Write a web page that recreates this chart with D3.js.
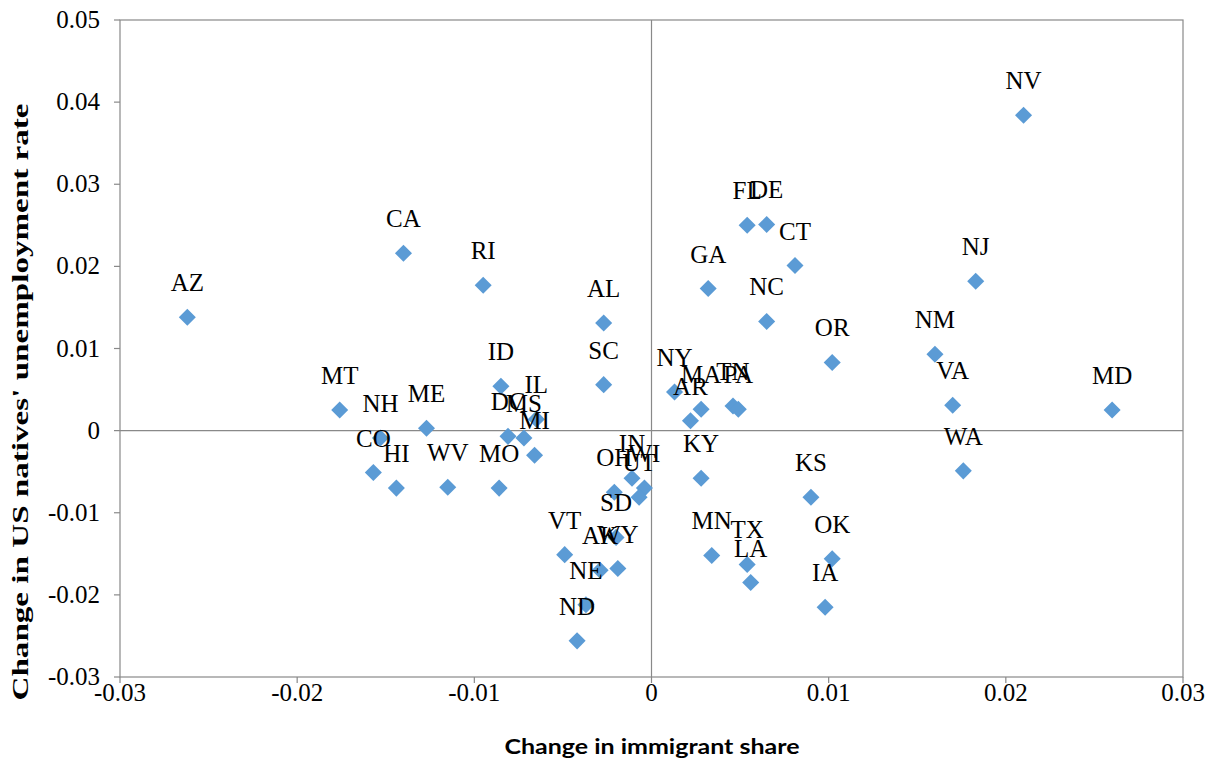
<!DOCTYPE html>
<html>
<head>
<meta charset="utf-8">
<title>Immigrant share vs natives' unemployment</title>
<style>
  body { margin: 0; background: #fff; }
</style>
</head>
<body>
<svg width="1212" height="763"></svg>
<script src="https://d3js.org/d3.v7.min.js"></script>
<script>
// state codes, change in immigrant share, change in natives' unemployment rate
var states = ['AZ','CA','RI','MT','NH','ME','CO','HI','WV','MO','ID','DC','MS','IL','MI',
              'AL','SC','NY','AR','MA','TN','PA','GA','FL','DE','CT','NC','NV','NJ','NM',
              'OR','VA','MD','WA','KS','OK','IA','KY','MN','TX','LA','IN','OH','WI','UT',
              'SD','VT','AK','WY','NE','ND'];
var immShare = [-0.0262,-0.0140,-0.0095,-0.0176,-0.0153,-0.0127,-0.0157,-0.0144,-0.0115,-0.0086,-0.0085,-0.0081,-0.0072,-0.0065,-0.0066,
                -0.0027,-0.0027,0.0013,0.0022,0.0028,0.0046,0.0049,0.0032,0.0054,0.0065,0.0081,0.0065,0.0210,0.0183,0.0160,
                0.0102,0.0170,0.0260,0.0176,0.0090,0.0102,0.0098,0.0028,0.0034,0.0054,0.0056,-0.0011,-0.0021,-0.0004,-0.0007,
                -0.0020,-0.0049,-0.0029,-0.0019,-0.0037,-0.0042];
var unempChange = [0.0138,0.0216,0.0177,0.0025,-0.0009,0.0003,-0.0051,-0.0070,-0.0069,-0.0070,0.0054,-0.0007,-0.0009,0.0014,-0.0030,
                   0.0131,0.0056,0.0047,0.0012,0.0026,0.0030,0.0026,0.0173,0.0250,0.0251,0.0201,0.0133,0.0384,0.0182,0.0093,
                   0.0083,0.0031,0.0025,-0.0049,-0.0081,-0.0156,-0.0215,-0.0058,-0.0152,-0.0163,-0.0185,-0.0058,-0.0075,-0.0070,-0.0081,
                   -0.0130,-0.0151,-0.0170,-0.0168,-0.0212,-0.0256];
var xTicks = [-0.03,-0.02,-0.01,0,0.01,0.02,0.03];
var yTicks = [-0.03,-0.02,-0.01,0,0.01,0.02,0.03,0.04,0.05];

var svg = d3.select('svg');
var x = d3.scaleLinear().domain([-0.03,0.03]).range([120,1183]);
var y = d3.scaleLinear().domain([-0.03,0.05]).range([677,20]);
var grey = '#898989';
// plain hyphen for negatives, like the original
var fmt = function(d){ return d === 0 ? '0' : d3.format('.2f')(d).replace('\u2212','-'); };

// plot area border
svg.append('rect')
  .attr('x', x(-0.03)).attr('y', y(0.05))
  .attr('width', x(0.03)-x(-0.03)).attr('height', y(-0.03)-y(0.05))
  .style('fill','none').style('stroke',grey).style('stroke-width',1.2);

// axis lines crossing at zero
svg.append('line').attr('x1',x(-0.03)).attr('x2',x(0.03)).attr('y1',y(0)).attr('y2',y(0))
  .style('stroke',grey).style('stroke-width',1.2);
svg.append('line').attr('x1',x(0)).attr('x2',x(0)).attr('y1',y(0.05)).attr('y2',y(-0.03))
  .style('stroke',grey).style('stroke-width',1.2);

// ticks and labels on the low edges
svg.selectAll('.yt').data(yTicks).enter().append('line')
  .attr('x1', x(-0.03)-6).attr('x2', x(-0.03))
  .attr('y1', function(d){ return y(d); }).attr('y2', function(d){ return y(d); })
  .style('stroke',grey).style('stroke-width',1.2);
svg.selectAll('.ytl').data(yTicks).enter().append('text')
  .text(fmt)
  .attr('x', x(-0.03)-20).attr('y', function(d){ return y(d)+8; })
  .attr('text-anchor','end')
  .attr('font-family','"Liberation Serif", serif').attr('font-size','25px').attr('fill','#000');

svg.selectAll('.xt').data(xTicks).enter().append('line')
  .attr('x1', function(d){ return x(d); }).attr('x2', function(d){ return x(d); })
  .attr('y1', y(-0.03)).attr('y2', y(-0.03)+6)
  .style('stroke',grey).style('stroke-width',1.2);
svg.selectAll('.xtl').data(xTicks).enter().append('text')
  .text(fmt)
  .attr('x', function(d){ return x(d); }).attr('y', y(-0.03)+24)
  .attr('text-anchor','middle')
  .attr('font-family','"Liberation Serif", serif').attr('font-size','25px').attr('fill','#000');

// points
var pts = states.map(function(s,i){ return {s:s, x:immShare[i], y:unempChange[i]}; });
var diamond = d3.symbol().type(d3.symbolDiamond2).size(185);
svg.selectAll('.pt').data(pts).enter().append('path')
  .attr('d', diamond)
  .attr('transform', function(d){ return 'translate('+x(d.x)+','+y(d.y)+')'; })
  .style('fill','#5b9bd5');

// data labels above points
svg.selectAll('.lb').data(pts).enter().append('text')
  .text(function(d){ return d.s; })
  .attr('x', function(d){ return x(d.x); })
  .attr('y', function(d){ return y(d.y)-26; })
  .attr('text-anchor','middle')
  .attr('font-family','"Liberation Serif", serif').attr('font-size','25px').attr('fill','#000');

// axis titles
svg.append('text')
  .text('Change in immigrant share')
  .attr('x', 652).attr('y', 754)
  .attr('text-anchor','middle')
  .attr('textLength', 295).attr('lengthAdjust','spacingAndGlyphs')
  .attr('font-family','Lato, sans-serif').attr('font-weight','bold').attr('font-size','21px').attr('fill','#000');

svg.append('text')
  .text("Change in US natives' unemployment rate")
  .attr('transform','translate(28,402) rotate(-90)')
  .attr('text-anchor','middle')
  .attr('textLength', 597).attr('lengthAdjust','spacingAndGlyphs')
  .attr('font-family','"Liberation Serif", serif').attr('font-weight','bold').attr('font-size','23px').attr('fill','#000');
</script>
</body>
</html>
